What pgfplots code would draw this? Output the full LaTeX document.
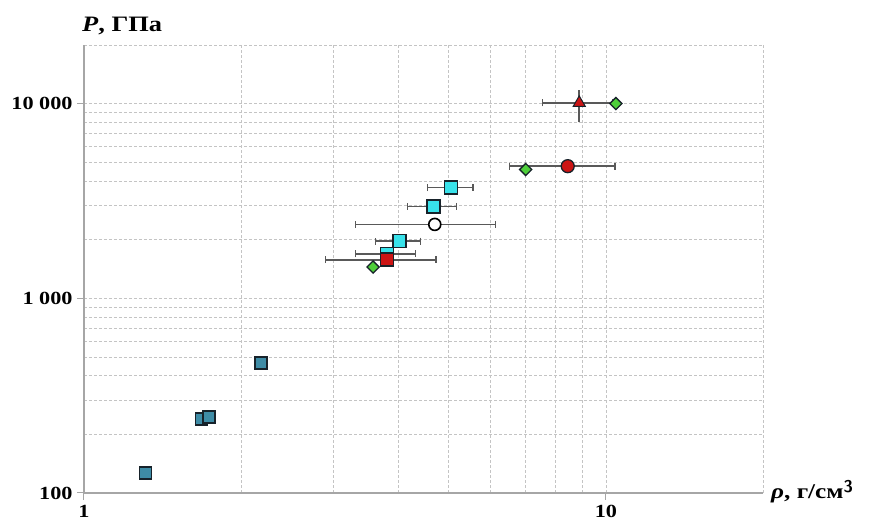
\documentclass[border=0pt]{standalone}
\usepackage{pgfplots}
\pgfplotsset{compat=1.18}
\usepackage{fontspec}
\setmainfont{Liberation Serif}[FakeStretch=1.2]
\definecolor{teal1}{HTML}{3E8CA6}
\definecolor{cyan1}{HTML}{38E2EA}
\definecolor{red1}{HTML}{CC1414}
\definecolor{green1}{HTML}{4ECF3A}
\definecolor{edge}{HTML}{17222A}
\definecolor{gridc}{HTML}{C4C4C4}
\definecolor{errc}{HTML}{595959}
\pgfplotsset{
  eb/.style={error bars/.cd, x dir=both, x explicit,
    error bar style={draw=errc, line width=1.7bp, solid},
    error mark=|, error mark options={draw=errc, line width=1.5bp, mark size=3.5bp, solid}},
}
\begin{document}
\begin{tikzpicture}
\begin{axis}[
  at={(0,0)}, anchor=south west,
  scale only axis, width=679bp, height=448bp,
  xmode=log, ymode=log,
  xmin=1, xmax=20, ymin=100, ymax=20000,
  axis x line*=bottom, axis y line*=left,
  axis line style={draw=gray!70, line width=1.2bp, -},
  xtick={1,10}, xticklabels={1,10},
  ytick={100,1000,10000}, yticklabels={100,{1 000},{10 000}},
  minor xtick={2,3,4,5,6,7,8,9,20},
  minor ytick={200,300,400,500,600,700,800,900,2000,3000,4000,5000,6000,7000,8000,9000,20000},
  tick align=outside, major tick length=7bp, minor tick length=0pt,
  tick style={draw=gray!70, line width=1bp},
  xmajorgrids, ymajorgrids, xminorgrids, yminorgrids,
  major grid style={draw=gridc, dash pattern=on 3bp off 2bp, line width=0.8bp},
  minor grid style={draw=gridc, dash pattern=on 3bp off 2bp, line width=0.8bp},
  ticklabel style={font=\bfseries\fontsize{18.5bp}{21bp}\selectfont, text=black},
  /pgf/number format/assume math mode=true,
  xticklabel style={yshift=-2bp},
  yticklabel style={xshift=-1bp},
  clip=false,
]
% dark teal squares
\addplot[only marks, mark=square*, mark size=6bp, mark options={fill=teal1, draw=edge, line width=1.6bp}]
 coordinates {(1.311,126.6) (1.680,240) (1.734,245) (2.183,464)};
% cyan with errors (behind red square)
\addplot[only marks, mark=square*, mark size=6.5bp, mark options={fill=cyan1, draw=edge, line width=1.6bp}, eb]
 coordinates {(3.81,1690) += (0.51,0) -= (0.50,0)};
\addplot[only marks, mark=square*, mark size=6.5bp, mark options={fill=red1, draw=edge, line width=1.6bp}, eb]
 coordinates {(3.81,1578) += (0.92,0) -= (0.91,0)};
\addplot[only marks, mark=square*, mark size=6.5bp, mark options={fill=cyan1, draw=edge, line width=1.6bp}, eb]
 coordinates {
  (4.02,1968) += (0.39,0) -= (0.40,0)
  (4.67,2964) += (0.50,0) -= (0.50,0)
  (5.05,3706) += (0.51,0) -= (0.50,0)
 };
% open circle
\addplot[only marks, mark=*, mark size=6bp, mark options={fill=white, draw=black, line width=1.6bp}, eb]
 coordinates {(4.70,2396) += (1.44,0) -= (1.39,0)};
% red circle
\addplot[only marks, mark=*, mark size=6.5bp, mark options={fill=red1, draw=edge, line width=1.3bp}, eb]
 coordinates {(8.45,4771) += (1.97,0) -= (1.91,0)};
% red triangle: x error
\addplot[only marks, mark=none, eb]
 coordinates {(8.89,10083) += (1.40,0) -= (1.33,0)};
% red triangle: y error
\addplot[only marks, mark=triangle*, mark size=7bp, mark options={fill=red1, draw=edge, line width=1bp},
  error bars/.cd, y dir=both, y explicit,
    error bar style={draw=errc, line width=1.7bp, solid},
    error mark=-, error mark options={draw=errc, line width=1.5bp, mark size=3.5bp, solid}]
 coordinates {(8.89,10083) += (0,1130) -= (0,1737)};
% green diamonds
\addplot[only marks, mark=square*, mark size=4.3bp, mark options={rotate=45, fill=green1, draw=edge, line width=1.3bp}]
 coordinates {(3.58,1447) (7.02,4586) (10.45,10000)};
\end{axis}
\node[anchor=base west, font=\bfseries\fontsize{22bp}{26bp}\selectfont, inner sep=0pt] at (-2bp,461bp) {\textit{P}, ГПа};
\node[anchor=base west, font=\bfseries\fontsize{21bp}{24bp}\selectfont, inner sep=0pt] at (687bp,-5bp) {\textit{ρ}, г/см\raisebox{0.55ex}{\fontsize{17bp}{20bp}\selectfont\textsf{3}}};
\pgfresetboundingbox
\path[use as bounding box] (-84bp,-31bp) rectangle (788bp,493bp);
\end{tikzpicture}
\end{document}
